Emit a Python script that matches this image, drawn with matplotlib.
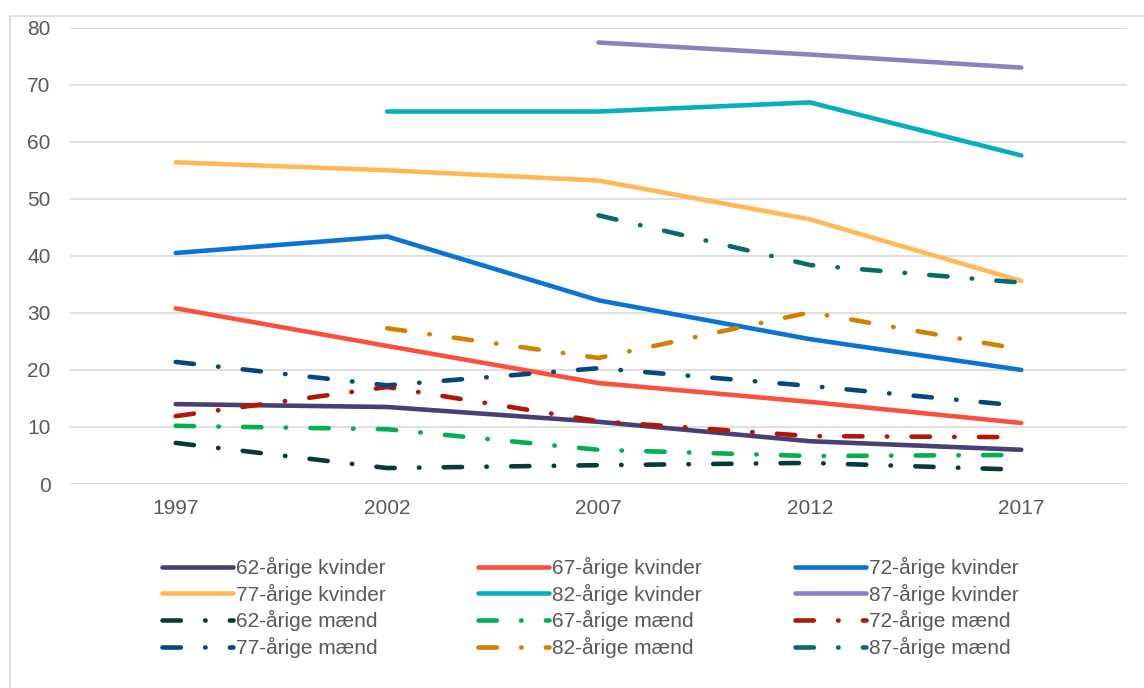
import numpy as np
import matplotlib.pyplot as plt
from matplotlib.patches import Rectangle

plt.rcParams['font.family'] = ['Liberation Sans', 'DejaVu Sans']

years = ["1997", "2002", "2007", "2012", "2017"]
nan = np.nan

labels = ["62-årige kvinder", "67-årige kvinder", "72-årige kvinder",
          "77-årige kvinder", "82-årige kvinder", "87-årige kvinder",
          "62-årige mænd", "67-årige mænd", "72-årige mænd",
          "77-årige mænd", "82-årige mænd", "87-årige mænd"]

k62 = [14.0, 13.5, 10.9, 7.5, 6.0]
k67 = [30.8, 24.2, 17.7, 14.4, 10.7]
k72 = [40.5, 43.4, 32.2, 25.4, 20.0]
k77 = [56.4, 55.0, 53.2, 46.4, 35.6]
k82 = [nan, 65.3, 65.3, 66.9, 57.6]
k87 = [nan, nan, 77.4, 75.3, 73.0]
m62 = [7.2, 2.8, 3.3, 3.7, 2.5]
m67 = [10.2, 9.6, 6.0, 4.9, 5.1]
m72 = [11.9, 17.0, 11.0, 8.4, 8.2]
m77 = [21.4, 17.3, 20.3, 17.2, 13.7]
m82 = [nan, 27.3, 22.1, 30.1, 23.6]
m87 = [nan, nan, 47.1, 38.4, 35.3]

series = [k62, k67, k72, k77, k82, k87, m62, m67, m72, m77, m82, m87]
colors = ["#473F75", "#FE4F3C", "#0A74D2", "#FFB957", "#04AFBE", "#8A84BE",
          "#073A3A", "#00B050", "#B31607", "#02487F", "#D37F00", "#066B69"]

fig = plt.figure(figsize=(11.44, 6.88), dpi=100)
ax = fig.add_axes([70/1144, 1-484/688, 1057/1144, (484-27.7)/688])

# outer chart frame
fig.patches.append(Rectangle((10/1144, -0.05), 1.0, 1-16/688+0.05,
                             transform=fig.transFigure, fill=False,
                             edgecolor="#d9d9d9", lw=1.2, zorder=0))

x = np.arange(len(years))
handles = []
for i, (vals, c, lab) in enumerate(zip(series, colors, labels)):
    if i < 6:
        ln, = ax.plot(x, vals, color=c, lw=3.3, solid_capstyle="round",
                      solid_joinstyle="round", label=lab)
    else:
        ln, = ax.plot(x, vals, color=c, lw=3.3, dash_capstyle="round",
                      linestyle=(0, (4, 5.3, 0.1, 5.3)), label=lab)
    handles.append(ln)

ax.set_xlim(-0.5, 4.5)
ax.set_ylim(0, 80)
ax.set_yticks(range(0, 81, 10))
ax.set_xticks(x)
ax.set_xticklabels(years)
ax.grid(axis="y", color="#d9d9d9", lw=1.2)
ax.set_axisbelow(True)
for s in ax.spines.values():
    s.set_visible(False)
ax.tick_params(length=0, labelsize=15, labelcolor="#595959")
ax.tick_params(axis="y", pad=14)
ax.tick_params(axis="x", pad=11)

# legend reads row by row, matplotlib fills column by column
order = [0, 3, 6, 9, 1, 4, 7, 10, 2, 5, 8, 11]
leg = fig.legend([handles[i] for i in order], [labels[i] for i in order],
                 ncol=3, loc="upper left", bbox_to_anchor=(162/1144, 1-557/688),
                 frameon=False, fontsize=15, handlelength=3.4,
                 handletextpad=0.15, columnspacing=4.45, labelspacing=0.27,
                 borderpad=0, borderaxespad=0)
for t in leg.get_texts():
    t.set_color("#595959")

fig.savefig("out.png", dpi=100)
